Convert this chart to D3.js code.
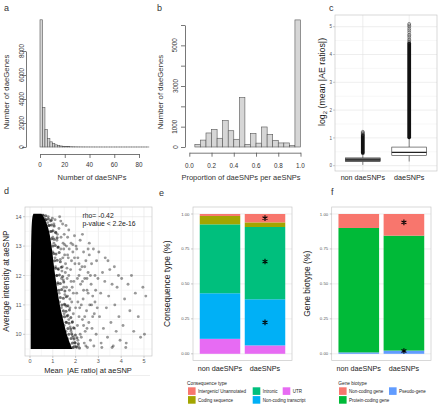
<!DOCTYPE html>
<html><head><meta charset="utf-8">
<script src="https://cdn.jsdelivr.net/npm/d3@7"></script>
<style>body{margin:0;background:#fff} svg{display:block;font-family:"Liberation Sans",Arial,sans-serif}</style>
</head><body><svg id="chart" width="440" height="406"></svg>
<script>
// ---------------- DATA ----------------
// Panel a: histogram of number of daeSNPs per daeGene (bins of width 2)
const aBinWidth = 2;
const aCounts = [10600,3300,1450,700,430,280,180,120,85,60,45,32,25,18,14,10,8,6,5,4,3,3,2,2,2,1,1,1,1,1,1,1,1,1,1,1,1,1,1,1,1,1,1,1];
const aXTicks = [0,20,40,60,80];
const aYTicks = [0,2000,4000,6000,8000];
// Panel b: proportion of daeSNPs per aeSNPs (bins of width 0.05)
const bBinWidth = 0.05;
const bCounts = [0,130,340,690,870,430,1300,800,380,2430,130,670,190,985,620,330,200,200,65,6250];
const bXTicks = [0,0.2,0.4,0.6,0.8,1.0];
const bYTicks = [0,1000,2000,3000,4000,5000,6000];
const bYLabels = [0,1000,3000,5000];
// Panel c: boxplots
const boxCats = ["non daeSNPs","daeSNPs"];
const boxWhiskLo = [0.03,0.15];
const boxQ1 = [0.15,0.37];
const boxMed = [0.21,0.48];
const boxQ3 = [0.28,0.67];
const boxWhiskHi = [0.45,1.0];
const outDenseLo = [0.46,1.02];
const outDenseHi = [1.1,4.4];
const outSparse = [[1.13,1.16,1.19,1.22],[4.45,4.5,4.55,4.62,4.68,4.72,4.8,4.87,4.93,5.0,5.05,5.1]];
const cYTicks = [0,1,2,3,4,5];
// Panel d: scatter (dense core envelope + points at its edge + scattered points)
const envY  = [9.5,9.7,10.0,10.5,11.0,11.5,12.0,12.5,13.0,13.5,13.8,14.0,14.1];
const envX0 = [0.03,0.03,0.03,0.03,0.03,0.03,0.03,0.04,0.05,0.06,0.08,0.1,0.15];
const envX1 = [1.85,1.75,1.6,1.45,1.3,1.2,1.1,1.02,0.95,0.85,0.72,0.6,0.5];
const edgePts = [
[1.9,9.55],[2.02,9.58],[2.17,9.53],[1.86,9.7],[1.96,9.72],[2.12,9.68],[1.8,9.86],[1.93,9.84],[2.06,9.88],
[1.7,10.0],[1.83,10.02],[1.99,9.98],[1.66,10.2],[1.79,10.18],[1.91,10.22],[1.58,10.41],[1.71,10.38],[1.86,10.43],
[1.52,10.6],[1.63,10.62],[1.79,10.57],[1.46,10.8],[1.58,10.78],[1.73,10.83],[1.4,11.0],[1.51,11.02],[1.66,10.97],
[1.33,11.25],[1.46,11.23],[1.59,11.28],[1.27,11.5],[1.39,11.52],[1.53,11.47],[1.22,11.75],[1.33,11.73],[1.48,11.78],
[1.17,12.0],[1.29,12.02],[1.43,11.97],[1.12,12.25],[1.23,12.23],[1.37,12.28],[1.08,12.5],[1.19,12.52],[1.33,12.47],
[1.04,12.75],[1.14,12.73],[1.28,12.78],[1.0,13.0],[1.11,13.02],[1.24,12.97],[0.95,13.25],[1.06,13.23],[1.19,13.28],
[0.9,13.5],[1.01,13.52],[1.13,13.47],[0.82,13.7],[0.94,13.72],[1.06,13.68],[0.7,13.9],[0.81,13.92],[0.93,13.88],[0.58,14.05],[0.69,14.03]
];
const scatterPts = [
[0.55,14.05],[0.62,13.95],[0.7,13.9],[0.78,13.8],[0.85,13.7],[0.9,13.85],[0.95,13.5],[1.0,13.3],[1.05,13.1],[1.0,12.8],[1.1,12.6],[1.12,12.3],[1.18,12.0],[1.22,11.7],[1.28,11.4],[1.3,11.1],[1.38,10.9],[1.42,10.6],[1.5,10.3],[1.58,10.1],[1.65,9.85],[1.75,9.65],[1.85,9.55],[0.8,14.0],[0.98,13.95],
[1.05,13.75],[1.12,13.45],[1.18,13.2],[1.22,12.95],[1.27,13.6],[1.3,14.0],[1.33,12.55],[1.36,13.3],[1.4,12.15],[1.43,13.75],[1.46,11.85],[1.48,12.9],[1.5,13.4],[1.53,11.35],[1.56,12.4],[1.59,10.95],[1.6,13.0],[1.63,11.9],[1.66,10.65],[1.68,12.6],[1.7,13.55],[1.73,11.5],[1.76,10.25],[1.78,12.2],[1.8,13.1],[1.83,11.1],[1.86,9.95],[1.88,12.8],[1.9,10.7],[1.92,11.8],[1.95,13.35],[1.97,12.4],[1.99,9.7],[1.62,12.25],[1.72,12.9],[1.52,12.7],[1.44,12.6],[1.38,11.9],[1.48,11.6],[1.55,11.0],[1.65,11.3],[1.75,10.9],[1.85,10.4],[1.95,10.2],[1.9,11.4],[1.8,11.8],[1.7,10.5],[1.6,10.4],[1.82,12.5],[1.58,13.7],
[1.15,11.5],[1.25,12.2],[1.35,12.9],[1.45,13.1],[1.55,12.1],[1.65,12.7],[1.75,11.2],[1.85,11.6],[1.95,12.6],[1.5,10.7],[1.6,11.6],[1.7,12.0],[1.8,10.1],[1.9,9.9],[2.0,10.9],[2.1,11.1],[2.2,12.2],[2.3,11.8],[2.4,12.3],[2.5,10.2],[2.2,10.0],[2.1,9.8],[1.95,9.6],[2.4,10.6],[2.65,12.0],[2.75,10.6],[2.85,11.1],[2.55,12.9],[2.05,12.9],[1.42,12.3],[1.52,13.05],[1.2,13.4],[1.1,13.9],[1.35,13.85],[1.65,13.3],[1.88,13.05],[2.15,12.4],[2.35,11.5],[2.5,11.9],[2.7,11.0],
[2.02,13.0],[2.05,11.4],[2.08,10.3],[2.1,12.6],[2.12,9.6],[2.15,12.0],[2.18,10.9],[2.2,13.2],[2.22,11.7],[2.25,9.9],[2.28,12.3],[2.3,10.5],[2.33,11.2],[2.35,12.8],[2.38,9.7],[2.4,11.9],[2.42,10.1],[2.45,12.5],[2.48,10.8],[2.5,11.5],[2.52,9.55],[2.55,12.1],[2.58,10.4],[2.6,12.7],[2.62,11.0],[2.65,9.8],[2.68,11.7],[2.7,12.4],[2.72,10.2],[2.75,11.3],[2.78,12.9],[2.8,9.6],[2.82,10.7],[2.85,12.0],[2.88,11.5],[2.9,10.0],[2.92,12.5],[2.95,10.9],[2.98,11.9],[2.6,13.1],[2.3,13.4],[2.08,11.9],[2.15,10.6],[2.25,11.0],[2.45,9.6],[2.05,9.55],[2.35,10.3],[2.55,11.4],
[3.02,12.8],[3.05,10.6],[3.1,11.4],[3.12,9.7],[3.18,12.1],[3.22,10.2],[3.28,11.8],[3.3,12.6],[3.35,10.9],[3.4,9.9],[3.45,11.3],[3.5,12.2],[3.55,10.4],[3.6,11.7],[3.65,9.6],[3.7,12.3],[3.72,11.0],[3.78,10.1],[3.82,11.6],[3.88,12.0],[3.9,10.6],[3.95,9.8],[3.42,12.5],[3.15,9.55],[3.6,9.55],
[4.02,11.9],[4.08,10.3],[4.15,11.2],[4.22,9.7],[4.3,11.7],[4.38,10.8],[4.45,12.0],[4.55,10.1],[4.62,11.4],[4.75,10.6],[4.85,9.9],[4.95,11.6],[5.02,10.0],[5.08,11.3],[4.2,9.55]
];
const dXTicks = [0,1,2,3,4,5];
const dYTicks = [10,11,12,13,14];
// Panel e: consequence type (stacked fractions)
const consTypes = ["Intergenic/ Unannotated","Coding sequence","Intronic","Non-coding transcript","UTR"];
const consColors = ["#F8766D","#A3A500","#00BF7D","#00B0F6","#E76BF3"];
const consNon = [0.014,0.06,0.493,0.326,0.107];
const consDae = [0.06,0.033,0.517,0.33,0.06];
const consStars = [0.97,0.66,0.225];
// Panel f: gene biotype
const bioTypes = ["Non-coding gene","Protein-coding gene","Pseudo-gene"];
const bioColors = ["#F8766D","#00BA38","#619CFF"];
const bioNon = [0.10,0.89,0.01];
const bioDae = [0.155,0.822,0.023];
const bioStars = [0.94,0.02];
const fracTicks = [0,0.25,0.5,0.75,1.0];

// ---------------- DRAW ----------------
const svg = d3.select("#chart");
const INK = "#222";
function text(g,x,y,s,size,o={}){
  const t=g.append("text").attr("x",x).attr("y",y).text(s).attr("font-size",size)
    .attr("fill",o.fill||INK).attr("text-anchor",o.anchor||"start");
  if(o.rot) t.attr("transform",`rotate(-90,${x},${y})`);
  return t;
}
[["a",4,11],["b",157,11],["c",329,11],["d",4,194],["e",159,196],["f",331,195]]
  .forEach(([s,x,y])=>text(svg,x,y,s,9,{fill:"#333"}));

// ---- Panel a ----
{
 const g=svg.append("g");
 const x=d3.scaleLinear([0,80],[40,139]);
 const y=d3.scaleLinear([0,8000],[147,51]);
 g.selectAll("rect").data(aCounts).join("rect")
  .attr("x",(d,i)=>x(i*aBinWidth)).attr("width",x(aBinWidth)-x(0))
  .attr("y",d=>y(d)).attr("height",d=>y(0)-y(d))
  .attr("fill","#d6d6d6").attr("stroke","#555").attr("stroke-width",0.6);
 const ya=g.append("g").attr("transform","translate(26,0)")
  .call(d3.axisLeft(y).tickValues(aYTicks).tickSize(4).tickSizeOuter(0).tickFormat(""));
 const xa=g.append("g").attr("transform","translate(0,154)")
  .call(d3.axisBottom(x).tickValues(aXTicks).tickSize(4).tickSizeOuter(0).tickFormat(""));
 [ya,xa].forEach(a=>{a.selectAll("path,line").attr("stroke","#555").attr("stroke-width",0.8);});
 aYTicks.forEach(v=>text(g,23.5,y(v),v,6.3,{anchor:"middle",rot:true,fill:"#333"}));
 aXTicks.forEach(v=>text(g,x(v),167,v,6.3,{anchor:"middle",fill:"#333"}));
 text(g,92,180,"Number of daeSNPs",7.5,{anchor:"middle",fill:"#333"});
 text(g,9,92,"Number of daeGenes",7.8,{anchor:"middle",rot:true,fill:"#333"});
}
// ---- Panel b ----
{
 const g=svg.append("g");
 const x=d3.scaleLinear([0,1],[189.3,300.5]);
 const y=d3.scaleLinear([0,6000],[147,25]);
 g.selectAll("rect").data(bCounts).join("rect")
  .attr("x",(d,i)=>x(i*bBinWidth)).attr("width",x(bBinWidth)-x(0))
  .attr("y",d=>y(d)).attr("height",d=>y(0)-y(d))
  .attr("fill","#d6d6d6").attr("stroke","#555").attr("stroke-width",0.6);
 const ya=g.append("g").attr("transform","translate(185,0)")
  .call(d3.axisLeft(y).tickValues(bYTicks).tickSize(4).tickSizeOuter(0).tickFormat(""));
 const xa=g.append("g").attr("transform","translate(0,152.7)")
  .call(d3.axisBottom(x).tickValues(bXTicks).tickSize(4).tickSizeOuter(0).tickFormat(""));
 [ya,xa].forEach(a=>{a.selectAll("path,line").attr("stroke","#555").attr("stroke-width",0.8);});
 bYLabels.forEach(v=>text(g,177.5,y(v),v,6.3,{anchor:"middle",rot:true,fill:"#333"}));
 bXTicks.forEach(v=>text(g,x(v),167.5,d3.format(".1f")(v),6.3,{anchor:"middle",fill:"#333"}));
 text(g,241,180,"Proportion of daeSNPs per aeSNPs",7.5,{anchor:"middle",fill:"#333"});
 text(g,163,92,"Number of daeGenes",7.8,{anchor:"middle",rot:true,fill:"#333"});
}
function ggPanel(g,x0,x1,y0,y1){
  g.append("rect").attr("x",x0).attr("y",y0).attr("width",x1-x0).attr("height",y1-y0).attr("fill","#fff");
}
function ggBorder(g,x0,x1,y0,y1){
  g.append("rect").attr("x",x0).attr("y",y0).attr("width",x1-x0).attr("height",y1-y0)
   .attr("fill","none").attr("stroke","#c8c8c8").attr("stroke-width",0.7);
}
// ---- Panel c ----
{
 const g=svg.append("g");
 const X0=335,X1=437,Y0=15,Y1=171;
 const x=d3.scalePoint(boxCats,[X0,X1]).padding(0.6);
 const y=d3.scaleLinear([0,5],[165.7,26.7]);
 ggPanel(g,X0,X1,Y0,Y1);
 d3.range(0,5.5,0.5).forEach(v=>{ if(y(v)>Y0&&y(v)<Y1)
   g.append("line").attr("x1",X0).attr("x2",X1).attr("y1",y(v)).attr("y2",y(v))
    .attr("stroke",Number.isInteger(v)?"#e3e3e3":"#f2f2f2").attr("stroke-width",0.6);});
 boxCats.forEach(c=>g.append("line").attr("x1",x(c)).attr("x2",x(c)).attr("y1",Y0).attr("y2",Y1)
    .attr("stroke","#e3e3e3").attr("stroke-width",0.6));
 const bw=x.step()*0.75;
 boxCats.forEach((c,i)=>{
   const cx=x(c);
   g.append("line").attr("x1",cx).attr("x2",cx).attr("y1",y(boxWhiskLo[i])).attr("y2",y(boxQ1[i])).attr("stroke","#333").attr("stroke-width",0.6);
   g.append("line").attr("x1",cx).attr("x2",cx).attr("y1",y(boxQ3[i])).attr("y2",y(boxWhiskHi[i])).attr("stroke","#333").attr("stroke-width",0.6);
   g.append("rect").attr("x",cx-bw/2).attr("width",bw).attr("y",y(boxQ3[i])).attr("height",y(boxQ1[i])-y(boxQ3[i]))
    .attr("fill",i===0?"#777":"#fff").attr("stroke","#333").attr("stroke-width",0.6);
   g.append("line").attr("x1",cx-bw/2).attr("x2",cx+bw/2).attr("y1",y(boxMed[i])).attr("y2",y(boxMed[i])).attr("stroke","#222").attr("stroke-width",1.1);
   g.append("rect").attr("x",cx-1.9).attr("width",3.8).attr("y",y(outDenseHi[i])-1.9)
    .attr("height",y(outDenseLo[i])-y(outDenseHi[i])+3.8).attr("rx",1.9).attr("fill","#111");
   g.selectAll(null).data(outSparse[i]).join("circle").attr("cx",cx).attr("cy",d=>y(d)).attr("r",1.5)
    .attr("fill","none").attr("stroke","#333").attr("stroke-width",0.5);
 });
 ggBorder(g,X0,X1,Y0,Y1);
 cYTicks.forEach(v=>{
   g.append("line").attr("x1",X0-2).attr("x2",X0).attr("y1",y(v)).attr("y2",y(v)).attr("stroke","#999").attr("stroke-width",0.5);
   text(g,X0-3,y(v)+1.6,v,4.5,{anchor:"end",fill:"#555"});});
 boxCats.forEach(c=>text(g,x(c),180,c,7.2,{anchor:"middle",fill:"#222"}));
 const t=g.append("text").attr("transform","translate(324.5,82) rotate(-90)").attr("text-anchor","middle")
   .attr("font-size",8.8).attr("fill",INK);
 t.append("tspan").text("log");
 t.append("tspan").text("2").attr("font-size",6).attr("dy",2.2);
 t.append("tspan").text(" (mean |AE ratios|)").attr("dy",-2.2);
}
// ---- Panel d ----
{
 const g=svg.append("g");
 const X0=25,X1=152,Y0=207,Y1=356;
 const x=d3.scaleLinear([0,5],[30,144]);
 const y=d3.scaleLinear([10,14],[334.3,216.7]);
 ggPanel(g,X0,X1,Y0,Y1);
 d3.range(0,5.5,0.5).forEach(v=>{ if(x(v)>X0&&x(v)<X1)
   g.append("line").attr("x1",x(v)).attr("x2",x(v)).attr("y1",Y0).attr("y2",Y1)
    .attr("stroke",Number.isInteger(v)?"#e3e3e3":"#f2f2f2").attr("stroke-width",0.6);});
 d3.range(9.5,14.5,0.5).forEach(v=>{ if(y(v)>Y0&&y(v)<Y1)
   g.append("line").attr("x1",X0).attr("x2",X1).attr("y1",y(v)).attr("y2",y(v))
    .attr("stroke",Number.isInteger(v)?"#e3e3e3":"#f2f2f2").attr("stroke-width",0.6);});
 const env=envY.map((v,i)=>({y:v,x0:envX0[i],x1:envX1[i]}));
 const area=d3.area().y(d=>y(d.y)).x0(d=>x(d.x0)).x1(d=>x(d.x1)).curve(d3.curveBasis);
 g.append("path").datum(env).attr("d",area).attr("fill","#000");
 g.selectAll("circle.edge").data(edgePts).join("circle").attr("class","edge")
  .attr("cx",d=>x(d[0])).attr("cy",d=>y(d[1])).attr("r",1.5)
  .attr("fill","#000").attr("fill-opacity",0.55);
 g.selectAll("circle.pt").data(scatterPts).join("circle").attr("class","pt")
  .attr("cx",d=>x(d[0])).attr("cy",d=>y(d[1])).attr("r",1.45)
  .attr("fill","#000").attr("fill-opacity",0.4);
 ggBorder(g,X0,X1,Y0,Y1);
 dYTicks.forEach(v=>{
   g.append("line").attr("x1",X0-2).attr("x2",X0).attr("y1",y(v)).attr("y2",y(v)).attr("stroke","#999").attr("stroke-width",0.5);
   text(g,X0-3.5,y(v)+2,v,5.5,{anchor:"end",fill:"#555"});});
 dXTicks.forEach(v=>{
   g.append("line").attr("x1",x(v)).attr("x2",x(v)).attr("y1",Y1).attr("y2",Y1+2).attr("stroke","#999").attr("stroke-width",0.5);
   text(g,x(v),363,v,5.5,{anchor:"middle",fill:"#555"});});
 text(g,88,372.5,"Mean  |AE ratio| at aeSNP",7.5,{anchor:"middle"}).style("white-space","pre");
 text(g,8.5,281,"Average intensity at aeSNP",8.3,{anchor:"middle",rot:true});
 text(g,82.5,217.5,"rho= -0.42",6.8);
 text(g,82.5,226.3,"p-value < 2.2e-16",6.8);
 g.append("line").attr("x1",0).attr("x2",150).attr("y1",375.5).attr("y2",375.5).attr("stroke","#e6e6e6").attr("stroke-width",0.7);
}
// ---- stacked bar helper ----
function stacked(X0,X1,Y0,Y1,cats,colors,nonVals,daeVals,stars,yTitle,titleX,legTitle,legX,legCols){
 const g=svg.append("g");
 const x=d3.scalePoint(boxCats,[X0,X1]).padding(0.6);
 const y=d3.scaleLinear([0,1],[353.8,214]);
 ggPanel(g,X0,X1,Y0,Y1);
 fracTicks.forEach(v=>g.append("line").attr("x1",X0).attr("x2",X1).attr("y1",y(v)).attr("y2",y(v)).attr("stroke","#e3e3e3").attr("stroke-width",0.6));
 const bw=x.step()*0.9;
 [nonVals,daeVals].forEach((vals,bi)=>{
   const cx=x(boxCats[bi]);
   let acc=0;
   for(let k=vals.length-1;k>=0;k--){
     g.append("rect").attr("x",cx-bw/2).attr("width",bw).attr("y",y(acc+vals[k])).attr("height",y(acc)-y(acc+vals[k]))
      .attr("fill",colors[k]);
     acc+=vals[k];
   }
 });
 const sym=d3.symbol(d3.symbolAsterisk,22);
 stars.forEach(v=>g.append("path").attr("d",sym()).attr("transform",`translate(${x(boxCats[1])},${y(v)})`)
   .attr("fill","none").attr("stroke","#000").attr("stroke-width",1.1));
 ggBorder(g,X0,X1,Y0,Y1);
 fracTicks.forEach(v=>{
   g.append("line").attr("x1",X0-2).attr("x2",X0).attr("y1",y(v)).attr("y2",y(v)).attr("stroke","#999").attr("stroke-width",0.5);
   text(g,X0-3.5,y(v)+1.5,d3.format(".2f")(v),4.3,{anchor:"end",fill:"#555"});});
 boxCats.forEach(c=>text(g,x(c),371,c,7.2,{anchor:"middle"}));
 text(g,titleX,(Y0+Y1)/2,yTitle,8.5,{anchor:"middle",rot:true});
 text(g,legX,384.5,legTitle,4.8);
 cats.forEach((c,k)=>{
   const col=Math.floor(k/2), row=k%2;
   const kx=legCols[col], ky=387.3+row*8.8;
   g.append("rect").attr("x",kx).attr("y",ky).attr("width",7.6).attr("height",7.6).attr("fill",colors[k]);
   text(g,kx+10,ky+5.4,c,4.5);
 });
}
stacked(193,292,207,360.5,consTypes,consColors,consNon,consDae,consStars,"Consequence type (%)",170,"Consequence type",187,[188,252.7,282.7]);
stacked(331.7,431,207,360.5,bioTypes,bioColors,bioNon,bioDae,bioStars,"Gene biotype (%)",310,"Gene biotype",338.3,[339,389]);
</script></body></html>
